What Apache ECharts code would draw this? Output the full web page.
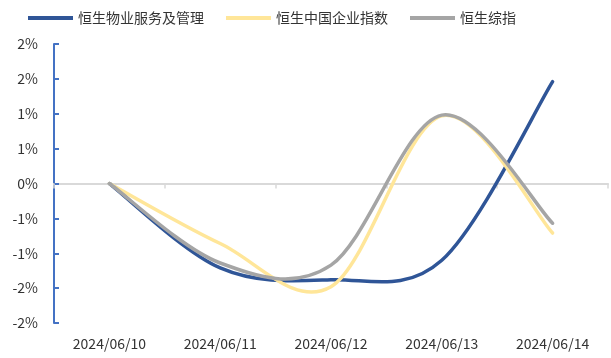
<!DOCTYPE html>
<html>
<head>
<meta charset="utf-8">
<script src="https://cdn.jsdelivr.net/npm/echarts@6/dist/echarts.min.js"></script>
<style>
  html, body { margin: 0; padding: 0; background: #fff; }
  #chart { width: 611px; height: 358px; }
</style>
</head>
<body>
<div id="chart"></div>
<script>
// Trading days
const dates = ['2024/06/10', '2024/06/11', '2024/06/12', '2024/06/13', '2024/06/14'];

// Cumulative change (%) per index
const propertyServices = [0, -1.21, -1.38, -1.10, 1.46];   // 恒生物业服务及管理
const hsceIndex        = [0, -0.86, -1.48, 0.97, -0.71];   // 恒生中国企业指数
const hsciIndex        = [0, -1.14, -1.17, 0.98, -0.57];   // 恒生综指

const seriesNames = ['恒生物业服务及管理', '恒生中国企业指数', '恒生综指'];
const seriesColors = ['#2F5597', '#FFE699', '#A5A5A5'];

const FONT = '"Noto Sans CJK SC", "Noto Sans", sans-serif';

const chart = echarts.init(document.getElementById('chart'), null, { renderer: 'canvas' });

// Smooth line through all points of a series (Catmull-Rom converted to cubic Bezier),
// positions obtained from the cartesian coordinate system.
function smoothPathSeries(name, values, color) {
  return {
    name: name,
    type: 'custom',
    coordinateSystem: 'cartesian2d',
    xAxisIndex: 0,
    yAxisIndex: 0,
    data: values.map(function (v, i) { return [i, v]; }),
    encode: { x: 0, y: 1 },
    itemStyle: { color: color },
    silent: true,
    renderItem: function (params, api) {
      if (params.dataIndex !== 0) return null;
      const pts = values.map(function (v, i) { return api.coord([i, v]); });
      const n = pts.length;
      let d = 'M' + pts[0][0] + ' ' + pts[0][1];
      for (let i = 0; i < n - 1; i++) {
        const p0 = pts[Math.max(i - 1, 0)];
        const p1 = pts[i];
        const p2 = pts[i + 1];
        const p3 = pts[Math.min(i + 2, n - 1)];
        const c1x = p1[0] + (p2[0] - p0[0]) / 6;
        const c1y = p1[1] + (p2[1] - p0[1]) / 6;
        const c2x = p2[0] - (p3[0] - p1[0]) / 6;
        const c2y = p2[1] - (p3[1] - p1[1]) / 6;
        d += ' C' + c1x + ' ' + c1y + ' ' + c2x + ' ' + c2y + ' ' + p2[0] + ' ' + p2[1];
      }
      return {
        type: 'path',
        shape: { pathData: d },
        style: { fill: 'none', stroke: color, lineWidth: 3.5, lineCap: 'round', lineJoin: 'round' }
      };
    }
  };
}

chart.setOption({
  animation: false,
  backgroundColor: '#ffffff',
  textStyle: { fontFamily: FONT },
  legend: {
    top: 6,
    left: 23,
    icon: 'rect',
    itemWidth: 45,
    itemHeight: 4,
    itemGap: 22,
    textStyle: { fontSize: 14, color: '#333333', fontFamily: FONT },
    data: seriesNames
  },
  grid: { left: 54, right: 3, top: 44, bottom: 35 },
  xAxis: [
    {
      type: 'category',
      data: dates,
      boundaryGap: true,
      axisLine: { show: true, onZero: true, lineStyle: { color: '#D9D9D9', width: 2 } },
      axisTick: { show: true, length: 5, alignWithLabel: false, lineStyle: { color: '#D9D9D9', width: 1.5 } },
      axisLabel: { show: false },
      splitLine: { show: false }
    },
    {
      type: 'category',
      data: dates,
      position: 'bottom',
      boundaryGap: true,
      axisLine: { show: false, onZero: false },
      axisTick: { show: false },
      axisLabel: { show: true, fontSize: 14, color: '#333333', margin: 14, fontFamily: FONT },
      splitLine: { show: false }
    }
  ],
  yAxis: {
    type: 'value',
    min: -2,
    max: 2,
    interval: 0.5,
    axisLine: { show: true, lineStyle: { color: '#4472C4', width: 2 } },
    axisTick: { show: true, inside: true, length: 5, lineStyle: { color: '#4472C4', width: 2 } },
    axisLabel: {
      fontSize: 14,
      color: '#333333',
      margin: 16,
      fontFamily: FONT,
      formatter: function (v) { return v.toFixed(0) + '%'; }
    },
    splitLine: { show: false }
  },
  series: [
    smoothPathSeries(seriesNames[0], propertyServices, seriesColors[0]),
    smoothPathSeries(seriesNames[1], hsceIndex, seriesColors[1]),
    smoothPathSeries(seriesNames[2], hsciIndex, seriesColors[2])
  ]
});
</script>
</body>
</html>
